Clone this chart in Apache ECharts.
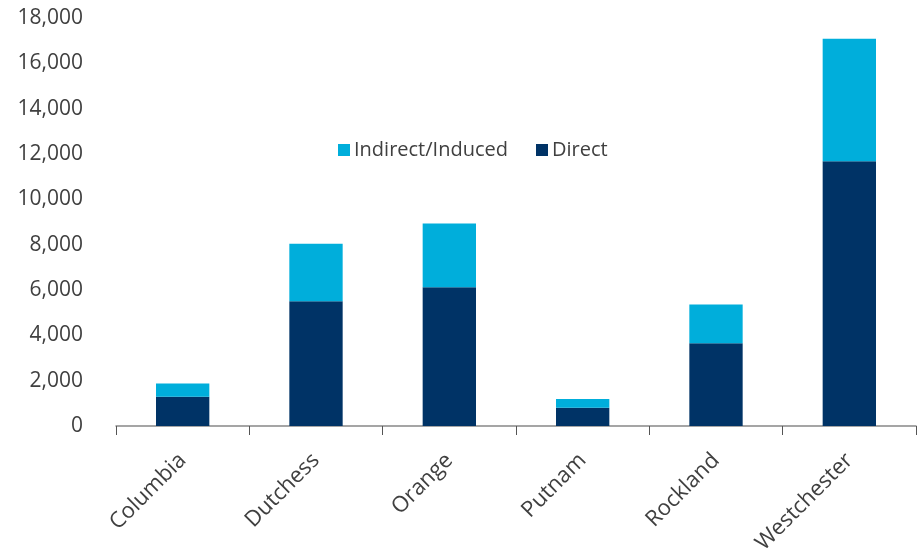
<!DOCTYPE html>
<html>
<head>
<meta charset="utf-8">
<script src="https://cdn.jsdelivr.net/npm/echarts@6/dist/echarts.min.js"></script>
<style>html,body{margin:0;padding:0;background:#fff}#c{width:919px;height:553px}</style>
</head>
<body>
<div id="c"></div>
<script>
const categories = ['Columbia', 'Dutchess', 'Orange', 'Putnam', 'Rockland', 'Westchester'];
const directValues = [1290, 5500, 6120, 800, 3650, 11680];
const indirectValues = [590, 2540, 2810, 390, 1710, 5400];
const yTicks = [0, 2000, 4000, 6000, 8000, 10000, 12000, 14000, 16000, 18000];

const FONT = '"Open Sans", "Noto Sans", sans-serif';
const chart = echarts.init(document.getElementById('c'), null, {renderer: 'canvas'});
chart.setOption({
  animation: false,
  textStyle: {fontFamily: FONT},
  legend: {
    left: 333, top: 135,
    itemWidth: 12, itemHeight: 12, itemGap: 28,
    icon: 'rect',
    textStyle: {fontSize: 20, color: '#404040', fontFamily: FONT, padding: [0, 0, 0, -1]},
    data: ['Indirect/Induced', 'Direct']
  },
  grid: {left: 116, right: 3, top: 18, bottom: 127, containLabel: false, outerBoundsMode: 'none'},
  xAxis: {
    type: 'category',
    data: categories,
    axisLine: {lineStyle: {color: '#888888', width: 1.5}},
    axisTick: {show: true, length: 9, lineStyle: {color: '#555555'}},
    axisLabel: {rotate: 45, fontSize: 22, color: '#404040', margin: 31, fontFamily: FONT}
  },
  yAxis: {
    type: 'value',
    min: yTicks[0], max: yTicks[yTicks.length - 1], interval: 2000,
    axisLine: {show: false},
    axisTick: {show: false},
    splitLine: {show: false},
    axisLabel: {
      fontSize: 21, color: '#404040', margin: 33, fontFamily: FONT,
      formatter: v => v.toLocaleString('en-US')
    }
  },
  series: [
    {name: 'Direct', type: 'bar', stack: 'total', data: directValues,
     barWidth: '40%', itemStyle: {color: '#003366'}},
    {name: 'Indirect/Induced', type: 'bar', stack: 'total', data: indirectValues,
     barWidth: '40%', itemStyle: {color: '#00AEDB'}}
  ]
});
</script>
</body>
</html>
